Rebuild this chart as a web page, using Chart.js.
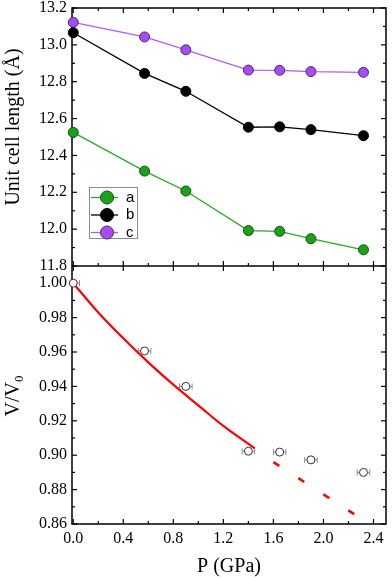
<!DOCTYPE html>
<html>
<head>
<meta charset="utf-8">
<script src="https://cdn.jsdelivr.net/npm/chart.js@4.4.0/dist/chart.umd.min.js"></script>
<style>
  html, body { margin: 0; padding: 0; background: #fff; }
</style>
</head>
<body>
<canvas id="chart" width="392" height="579"></canvas>
<script>
// pressure points (GPa) shared by both panels
const pressure = [0, 0.57, 0.90, 1.40, 1.65, 1.90, 2.32];
const latticeA = [12.525, 12.315, 12.207, 11.992, 11.988, 11.948, 11.888];
const latticeB = [13.066, 12.845, 12.748, 12.553, 12.555, 12.540, 12.507];
const latticeC = [13.122, 13.043, 12.973, 12.863, 12.862, 12.855, 12.851];
const volRatio = [1.000, 0.9606, 0.9400, 0.9023, 0.9018, 0.8973, 0.8900];
const pressureErr = [0.05, 0.05, 0.05, 0.05, 0.05, 0.05, 0.05];

// EOS fit (solid) and its extrapolation (dashed)
const fitP = [0, 0.2, 0.4, 0.6, 0.8, 1.0, 1.2, 1.45];
const fitV = [1.000, 0.983, 0.968, 0.954, 0.941, 0.929, 0.917, 0.904];
const extrapP = [1.6, 2.25];
const extrapV = [0.896, 0.8655];

const xTicks = [0, 0.4, 0.8, 1.2, 1.6, 2.0, 2.4];
const lenTicks = [11.8, 12.0, 12.2, 12.4, 12.6, 12.8, 13.0, 13.2];
const volTicks = [0.86, 0.88, 0.90, 0.92, 0.94, 0.96, 0.98, 1.00];

const serif = "'Liberation Serif', 'Times New Roman', serif";
const sans = "'Liberation Sans', Arial, sans-serif";

const pts = (xs, ys) => xs.map((x, i) => ({ x: x, y: ys[i] }));

// in-between values for minor ticks
function withMinor(major) {
  const out = [];
  major.forEach((v, i) => {
    out.push({ v: v, major: true });
    if (i < major.length - 1) out.push({ v: (v + major[i + 1]) / 2, major: false });
  });
  return out;
}

function seg(ctx, x1, y1, x2, y2) {
  ctx.beginPath();
  ctx.moveTo(x1, y1);
  ctx.lineTo(x2, y2);
  ctx.stroke();
}

const framePlugin = {
  id: 'frame',
  beforeDatasetsDraw(chart) {
    const ctx = chart.ctx;
    const x = chart.scales.x, yLen = chart.scales.yLen, yVol = chart.scales.yVol;
    const L = chart.chartArea.left, R = chart.chartArea.right;
    const top = yLen.top, mid = yLen.bottom, bot = yVol.bottom;
    ctx.save();
    ctx.strokeStyle = '#000';
    ctx.lineWidth = 1.5;
    ctx.strokeRect(L, top, R - L, bot - top);
    seg(ctx, L, mid, R, mid);

    ctx.lineWidth = 1.2;
    withMinor(xTicks).forEach(t => {
      const px = x.getPixelForValue(t.v);
      const len = t.major ? 5 : 3;
      seg(ctx, px, top, px, top + len);
      seg(ctx, px, bot, px, bot - len);
      if (t.major) seg(ctx, px, mid - 5, px, mid + 5);
      else seg(ctx, px, mid - 3, px, mid);
    });
    withMinor(lenTicks).forEach(t => {
      const py = yLen.getPixelForValue(t.v);
      const len = t.major ? 5 : 3;
      seg(ctx, L, py, L + len, py);
      seg(ctx, R, py, R - len, py);
    });
    withMinor(volTicks).forEach(t => {
      const py = yVol.getPixelForValue(t.v);
      const len = t.major ? 5 : 3;
      seg(ctx, L, py, L + len, py);
      seg(ctx, R, py, R - len, py);
    });

    // horizontal error bars on V/V0
    ctx.strokeStyle = '#8a8a8a';
    ctx.lineWidth = 1;
    pressure.forEach((p, i) => {
      const py = yVol.getPixelForValue(volRatio[i]);
      const x1 = x.getPixelForValue(p - pressureErr[i]);
      const x2 = x.getPixelForValue(p + pressureErr[i]);
      seg(ctx, Math.max(x1, L), py, x2, py);
      if (x1 >= L) seg(ctx, x1, py - 3, x1, py + 3);
      seg(ctx, x2, py - 3, x2, py + 3);
    });
    ctx.restore();
  },
  afterDatasetsDraw(chart) {
    // boxed legend for a, b, c
    const ctx = chart.ctx;
    ctx.save();
    ctx.fillStyle = '#fff';
    ctx.fillRect(89, 187, 49, 52);
    ctx.strokeStyle = '#8c8c8c';
    ctx.lineWidth = 1;
    ctx.strokeRect(89.5, 187.5, 48, 51);
    chart.data.datasets.slice(0, 3).forEach((ds, i) => {
      const y = 197.5 + i * 17.5;
      ctx.strokeStyle = ds.borderColor;
      ctx.lineWidth = 1.3;
      seg(ctx, 91, y, 118, y);
      ctx.beginPath();
      ctx.arc(107, y, 6.5, 0, Math.PI * 2);
      ctx.fillStyle = ds.backgroundColor;
      ctx.fill();
      ctx.strokeStyle = ds.pointBorderColor;
      ctx.lineWidth = 1;
      ctx.stroke();
      ctx.fillStyle = '#000';
      ctx.font = '15px ' + sans;
      ctx.textAlign = 'left';
      ctx.textBaseline = 'middle';
      ctx.fillText(ds.label, 126, y);
    });
    ctx.restore();
  },
  afterDraw(chart) {
    const ctx = chart.ctx;
    const area = chart.chartArea;
    ctx.save();
    ctx.fillStyle = '#000';
    ctx.font = '20px ' + serif;
    ctx.textAlign = 'center';
    ctx.textBaseline = 'alphabetic';
    ctx.fillText('P (GPa)', (area.left + area.right) / 2, 572);

    ctx.save();
    ctx.translate(14, 127);
    ctx.rotate(-Math.PI / 2);
    ctx.textBaseline = 'middle';
    ctx.fillText('Unit cell length (\u00C5)', 0, 0);
    ctx.restore();

    ctx.save();
    ctx.translate(12, 396);
    ctx.rotate(-Math.PI / 2);
    ctx.textAlign = 'left';
    const main = 'V/V';
    const w1 = ctx.measureText(main).width;
    ctx.font = '13px ' + serif;
    const w0 = ctx.measureText('0').width;
    const start = -(w1 + w0) / 2;
    ctx.font = '20px ' + serif;
    ctx.fillText(main, start, 7);
    ctx.font = '13px ' + serif;
    ctx.fillText('0', start + w1, 11);
    ctx.restore();
    ctx.restore();
  }
};

function fixedTicks(list) {
  return scale => { scale.ticks = list.map(v => ({ value: v })); };
}

function yScale(min, max, list, decimals) {
  return {
    type: 'linear',
    position: 'left',
    stack: 'panels',
    stackWeight: 1,
    min: min,
    max: max,
    afterBuildTicks: fixedTicks(list),
    afterFit: s => { s.width = 72; s.paddingTop = 0; s.paddingBottom = 0; },
    grid: { display: false, drawTicks: false },
    border: { display: false },
    ticks: {
      color: '#000',
      padding: 5,
      autoSkip: false,
      font: { family: serif, size: 16 },
      callback: v => v.toFixed(decimals)
    }
  };
}

new Chart(document.getElementById('chart'), {
  type: 'scatter',
  data: {
    datasets: [
      {
        label: 'a', data: pts(pressure, latticeA), yAxisID: 'yLen', showLine: true,
        borderColor: '#2aa82a', backgroundColor: '#19a319', pointBorderColor: '#1e4a1e',
        borderWidth: 1.3, pointRadius: 5, pointBorderWidth: 1, clip: false
      },
      {
        label: 'b', data: pts(pressure, latticeB), yAxisID: 'yLen', showLine: true,
        borderColor: '#000000', backgroundColor: '#000000', pointBorderColor: '#000000',
        borderWidth: 1.3, pointRadius: 5, pointBorderWidth: 1, clip: false
      },
      {
        label: 'c', data: pts(pressure, latticeC), yAxisID: 'yLen', showLine: true,
        borderColor: '#b25cf7', backgroundColor: '#a64cf2', pointBorderColor: '#4a2a66',
        borderWidth: 1.3, pointRadius: 5, pointBorderWidth: 1, clip: false
      },
      {
        label: 'V/V0', data: pts(pressure, volRatio), yAxisID: 'yVol', showLine: false,
        backgroundColor: '#ffffff', borderColor: '#333333',
        pointRadius: 4, pointBorderWidth: 1, clip: false
      },
      {
        label: 'fit', data: pts(fitP, fitV), yAxisID: 'yVol', showLine: true,
        borderColor: '#ff0000', borderWidth: 2.2, pointRadius: 0, tension: 0.4
      },
      {
        label: 'extrapolation', data: pts(extrapP, extrapV), yAxisID: 'yVol', showLine: true,
        borderColor: '#ff0000', borderWidth: 2.6, borderDash: [7, 22.7], pointRadius: 0
      }
    ]
  },
  options: {
    responsive: false,
    animation: false,
    devicePixelRatio: 1,
    layout: { padding: { left: 0, top: 8, right: 2, bottom: 0 } },
    plugins: { legend: { display: false }, tooltip: { enabled: false } },
    scales: {
      x: {
        type: 'linear',
        position: 'bottom',
        min: -0.01,
        max: 2.5,
        afterBuildTicks: fixedTicks(xTicks),
        afterFit: s => { s.height = 55; s.paddingLeft = 0; s.paddingRight = 0; },
        grid: { display: false, drawTicks: false },
        border: { display: false },
        ticks: {
          color: '#000',
          padding: 5,
          maxRotation: 0,
          autoSkip: false,
          font: { family: serif, size: 16 },
          callback: v => v.toFixed(1)
        }
      },
      yVol: yScale(0.86, 1.01, volTicks, 2),
      yLen: yScale(11.8, 13.2, lenTicks, 1)
    }
  },
  plugins: [framePlugin]
});
</script>
</body>
</html>
